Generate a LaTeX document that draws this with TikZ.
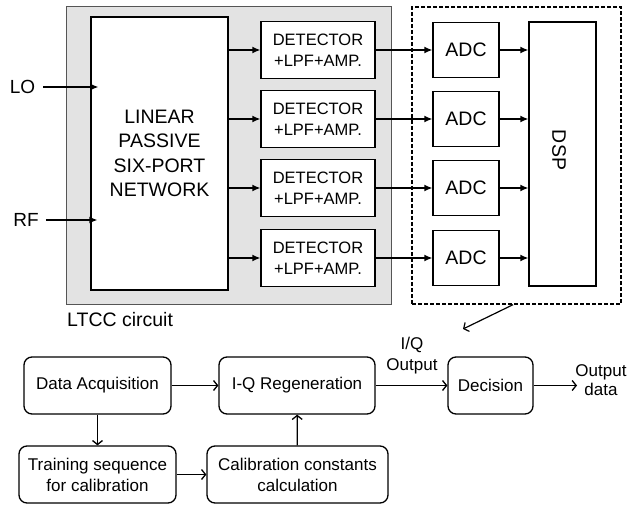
\documentclass[tikz,border=0pt]{standalone}
\usepackage{fontspec}
\setmainfont{Liberation Sans}
\usetikzlibrary{arrows.meta,positioning,calc}
\definecolor{ltccgray}{RGB}{227,227,227}
\definecolor{ltccedge}{RGB}{85,85,85}
\begin{document}
\begin{tikzpicture}[x=1pt,y=-1pt,
  blk/.style={draw,line width=1.3pt,fill=white,inner sep=0pt,align=center},
  detbox/.style={blk,minimum width=114pt,minimum height=57pt,font=\fontsize{16.5}{20.5}\selectfont},
  adcbox/.style={blk,minimum width=66pt,minimum height=55pt,font=\fontsize{19.5}{23}\selectfont},
  flowbox/.style={blk,rounded corners=8pt,minimum height=57pt,font=\fontsize{17}{21}\selectfont},
  lbl/.style={inner sep=0pt,align=center},
  arrT/.style={line width=1.4pt,-{Latex[length=8pt,width=7pt]}},
  arrB/.style={line width=1.3pt,-{Straight Barb[length=4pt,width=10pt,line width=1.3pt]}}]
\useasboundingbox (0,0) rectangle (631,505);

% LTCC substrate and the DSP group
\node[draw=ltccedge,line width=1pt,fill=ltccgray,minimum width=325pt,minimum height=297pt,inner sep=0pt]
  (ltcc) at (228.5,155.5) {};
\node[draw,line width=1.4pt,dash pattern=on 4pt off 2pt,minimum width=209pt,minimum height=297pt,inner sep=0pt]
  (dspgrp) at (516.5,155.5) {};
\node[lbl,anchor=west,font=\fontsize{19.5}{23}\selectfont] (ltcclbl) at (67,320) {LTCC circuit};

% six-port network
\node[blk,minimum width=137pt,minimum height=273pt,font=\fontsize{19.5}{24.3}\selectfont]
  (lin) at (159.5,153.5) {LINEAR\\PASSIVE\\SIX-PORT\\NETWORK};

% inputs
\node[lbl,font=\fontsize{19}{23}\selectfont] (lo) at (22.5,87) {LO};
\node[lbl,font=\fontsize{19}{23}\selectfont] (rf) at (26,220) {RF};
\draw[arrT] ([xshift=8pt]lo.east) -- ([xshift=8pt]lo.east -| lin.west);
\draw[arrT] ([xshift=7pt]rf.east) -- ([xshift=7pt]rf.east -| lin.west);

% detector / ADC chains
\foreach \i/\y in {1/50,2/119,3/188,4/258}{
  \node[detbox] (det\i) at (318,\y) {DETECTOR\\+LPF+AMP.};
  \node[adcbox] (adc\i) at (466,\y) {ADC};
}
\node[blk,minimum width=67pt,minimum height=264pt] (dsp) at (562.5,154) {};
\node[lbl,rotate=-90,font=\fontsize{19.5}{23}\selectfont] (dsplbl) at (559,150) {DSP};

\foreach \i in {1,...,4}{
  \draw[arrT] (lin.east |- det\i) -- (det\i.west);
  \draw[arrT] (det\i.east) -- (adc\i.west);
  \draw[arrT] (adc\i.east) -- (adc\i.east -| dsp.west);
}

% expansion pointer to the processing flow
\coordinate (ptr) at (463,329);
\draw[line width=1.2pt,-{Straight Barb[length=4pt,width=10pt,line width=1.2pt]}] (dspgrp.south -| 513,0) -- (ptr);

% processing flow
\node[flowbox,minimum width=147pt] (acq) at (97.5,385.5) {Data Acquisition};
\node[flowbox,minimum width=156pt] (iq) at (297,385.5) {I-Q Regeneration};
\node[flowbox,minimum width=85pt] (dec) at (490.5,385.5) {Decision};
\node[flowbox,minimum width=157pt] (train) at (97.5,474.5) {Training sequence\\for calibration};
\node[flowbox,minimum width=181pt] (cal) at (297.5,474.5) {Calibration constants\\calculation};

\node[lbl,font=\fontsize{17}{21}\selectfont] (iqout) at (412,356) {I/Q\\Output};
\node[lbl,font=\fontsize{17}{19.5}\selectfont] (outdata) at (601,380) {Output\\data};
\coordinate (outend) at (577,385.5);

\draw[arrB] (acq) -- (iq);
\draw[arrB] (iq) -- (dec);
\draw[arrB] (dec) -- (outend);
\draw[arrB] (acq) -- (train);
\draw[arrB] (train) -- (cal);
\draw[arrB] (cal) -- (iq);
\end{tikzpicture}
\end{document}
